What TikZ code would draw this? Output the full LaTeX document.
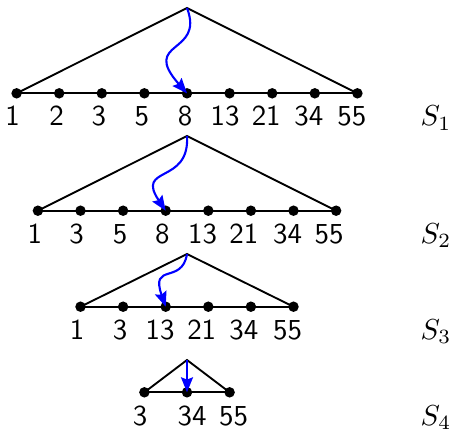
\documentclass[tikz,border=0pt]{standalone}
\usetikzlibrary{arrows.meta}
\begin{document}
\begin{tikzpicture}[x={(0.023474cm,0)}, y={(0,-0.023474cm)},
  dot/.style={circle, fill=black, inner sep=0pt, minimum size=7pt},
  edge/.style={line width=1.25pt, black},
  arr/.style={line width=1.4pt, blue, -{Stealth[length=10pt,width=8pt,inset=1.5pt]}},
  lab/.style={anchor=base, inner sep=0pt, scale=1.93, font=\normalsize\sffamily},
  setlab/.style={anchor=base, inner sep=0pt, scale=1.93, font=\normalsize}]
\useasboundingbox (0,0) rectangle (450,428);
% Row 1
\coordinate (t1) at (187,8);
\foreach \lab/\dx [count=\i] in {1/-4,2/-2.5,3/-3,5/-2.5,8/-2,13/-4.5,21/-6,34/-6,55/-5.5}{
  \node[dot] (a\i) at ({187+42.6*(\i-5)},93.3) {};
  \node[lab] (al\i) at ({187+42.6*(\i-5)+\dx},125.7) {\lab};
}
\draw[edge] (a1.center) -- (a9.center);
\draw[edge] (a1.center) -- (t1) -- (a9.center);
\node[setlab] (s1) at (436,125.7) {$S_1$};
\draw[arr] (t1) .. controls (205,55) and (140,40) .. (a5.center);
% Row 2
\coordinate (t2) at (187,136);
\foreach \lab/\dx [count=\i] in {1/-3,3/-3.8,5/-3,8/-3.4,13/-5.8,21/-7,34/-6,55/-7}{
  \node[dot] (b\i) at ({187+42.6*(\i-4.5)},210.7) {};
  \node[lab] (bl\i) at ({187+42.6*(\i-4.5)+\dx},243.2) {\lab};
}
\draw[edge] (b1.center) -- (b8.center);
\draw[edge] (b1.center) -- (t2) -- (b8.center);
\node[setlab] (s2) at (436,243.2) {$S_2$};
\draw[arr] (t2) .. controls (190,185) and (135,165) .. (b4.center);
% Row 3
\coordinate (t3) at (187,254);
\foreach \lab/\dx [count=\i] in {1/-3.5,3/-3,13/-5.7,21/-6.6,34/-7,55/-6}{
  \node[dot] (c\i) at ({187+42.6*(\i-3.5)},306.7) {};
  \node[lab] (cl\i) at ({187+42.6*(\i-3.5)+\dx},339.2) {\lab};
}
\draw[edge] (c1.center) -- (c6.center);
\draw[edge] (c1.center) -- (t3) -- (c6.center);
\node[setlab] (s3) at (436,339.2) {$S_3$};
\draw[arr] (t3) .. controls (182,285) and (150,262) .. (c3.center);
% Row 4
\coordinate (t4) at (187,360);
\foreach \lab/\dx [count=\i] in {3/-4.4,34/5,55/4}{
  \node[dot] (d\i) at ({187+42.6*(\i-2)},392.3) {};
  \node[lab] (dl\i) at ({187+42.6*(\i-2)+\dx},425) {\lab};
}
\draw[edge] (d1.center) -- (d3.center);
\draw[edge] (d1.center) -- (t4) -- (d3.center);
\node[setlab] (s4) at (436,425) {$S_4$};
\draw[arr] (t4) -- (d2.center);
\end{tikzpicture}
\end{document}
